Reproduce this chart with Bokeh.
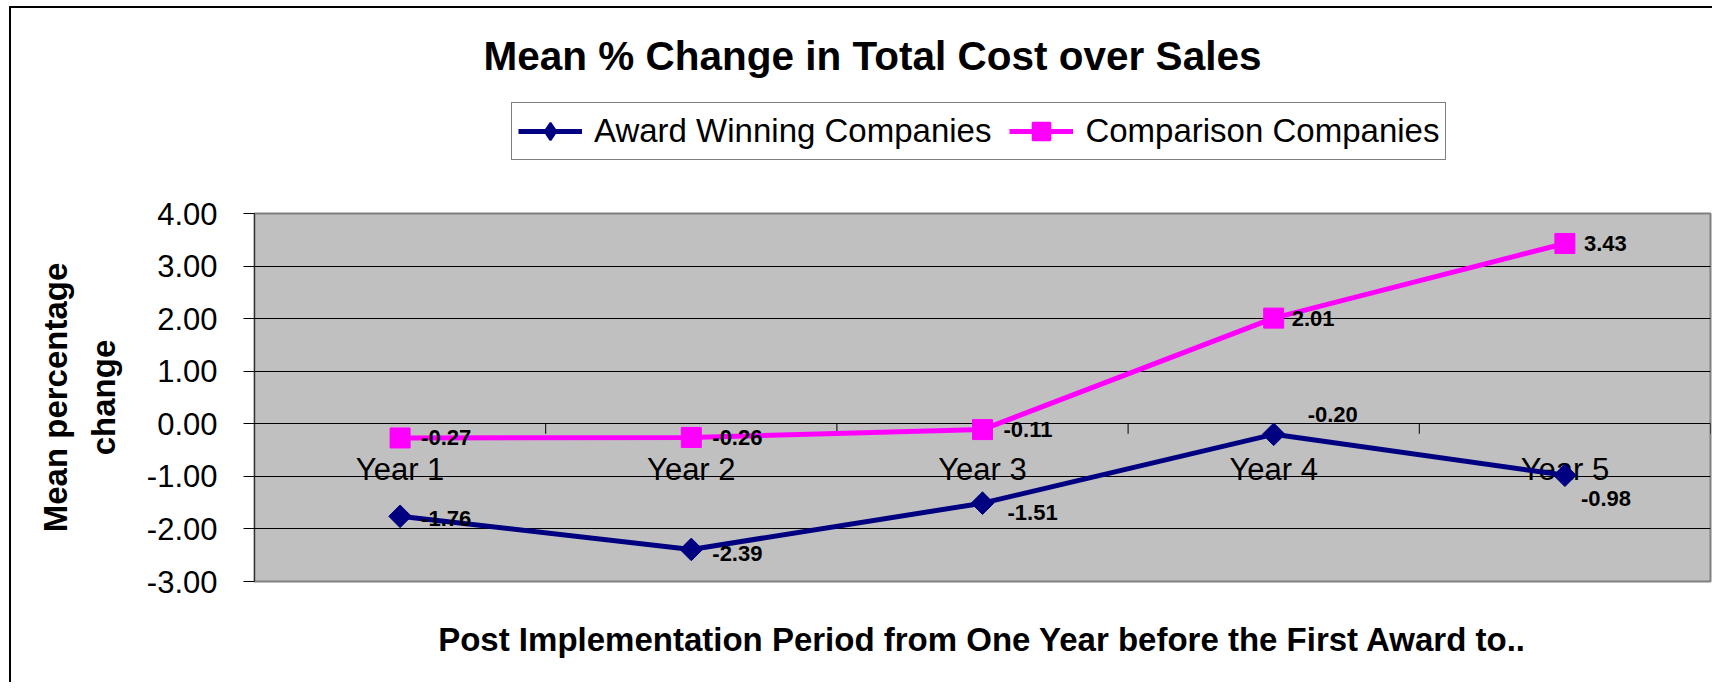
import math
from bokeh.plotting import figure
from bokeh.layouts import column
from bokeh.models import (Range1d, FixedTicker, NumeralTickFormatter, Legend,
                          LegendItem, Label, LinearAxis, ColumnDataSource)
from bokeh.core.properties import value
from bokeh.embed import file_html
from bokeh.resources import INLINE

# ---------------- data ----------------
categories = ["Year 1", "Year 2", "Year 3", "Year 4", "Year 5"]
award = [-1.76, -2.39, -1.51, -0.20, -0.98]
comparison = [-0.27, -0.26, -0.11, 2.01, 3.43]
y_ticks = [-3, -2, -1, 0, 1, 2, 3, 4]
series_names = ["Award Winning Companies", "Comparison Companies"]
title_text = "Mean % Change in Total Cost over Sales"
y_title = ["Mean percentage", "change"]
x_title = "Post Implementation Period from One Year before the First Award to.."

# label placement (styling, pixels)
award_dx = [21, 21, 25, 34, 16]
award_dy = [2, 4, 9, -20, 23]
comp_dx = [21, 21, 21, 18, 19]
comp_dy = [0, 0, 0, 0, 0]

FONT = "Liberation Sans"
NAVY = "#000080"
MAGENTA = "#FF00FF"
W = 1712
HEAD_H = 193
MAIN_H = 489
LEFT = 254
RIGHT = 2

n = len(categories)
xs = [i + 0.5 for i in range(n)]
bounds = list(range(n + 1))

src_a = ColumnDataSource(dict(x=xs, y=award, lab=[f"{v:.2f}" for v in award],
                              dx=award_dx, dy=award_dy))
src_c = ColumnDataSource(dict(x=xs, y=comparison, lab=[f"{v:.2f}" for v in comparison],
                              dx=comp_dx, dy=comp_dy))

# ---------------- header: title + legend ----------------
head = figure(width=W, height=HEAD_H, output_backend="svg", toolbar_location=None,
              x_range=Range1d(LEFT, W - RIGHT), y_range=Range1d(HEAD_H, 0), title=None,
              x_axis_location=None, y_axis_location=None,
              min_border_left=LEFT, min_border_right=RIGHT, min_border_top=0,
              min_border_bottom=0)
head.styles = {"background": "linear-gradient(#000,#000) 9px 6px / 2px 100% no-repeat, "
                             "linear-gradient(#000,#000) 9px 6px / calc(100% - 9px) 2px no-repeat, #ffffff"}
head.xgrid.visible = False
head.ygrid.visible = False
head.outline_line_color = None
head.background_fill_alpha = 0
head.border_fill_alpha = 0
# legend proxies: same series, drawn on an off-screen range of the header
head.extra_x_ranges = {"proxy": Range1d(-20, -10)}
hla = head.line("x", "y", source=src_a, x_range_name="proxy", line_color=NAVY, line_width=5)
hsa = head.scatter("x", "y", source=src_a, x_range_name="proxy", marker="diamond",
                   size=16, fill_color=NAVY, line_color=NAVY, line_width=2)
hlc = head.line("x", "y", source=src_c, x_range_name="proxy", line_color=MAGENTA, line_width=5)
hsc = head.scatter("x", "y", source=src_c, x_range_name="proxy", marker="square", size=20,
                   fill_color=MAGENTA, line_color=MAGENTA, line_width=2)

legend = Legend(items=[LegendItem(label=series_names[0], renderers=[hla, hsa]),
                       LegendItem(label=series_names[1], renderers=[hlc, hsc])],
                orientation="horizontal", location=(511 - LEFT, HEAD_H - 160),
                glyph_width=64, glyph_height=44, label_standoff=12, spacing=18,
                padding=6, margin=0, label_text_font=FONT,
                label_text_font_size="33px", label_text_color="black",
                border_line_color="black", border_line_width=1.5,
                background_fill_color="white", background_fill_alpha=1.0)
head.add_layout(legend)
head.add_layout(Label(x=872, y=55, text=title_text, text_font=FONT,
                      text_font_size="40.5px", text_font_style="bold",
                      text_align="center", text_baseline="alphabetic",
                      text_color="black"))

# ---------------- main chart ----------------
p = figure(width=W, height=MAIN_H, output_backend="svg", toolbar_location=None,
           x_range=Range1d(0, n), y_range=Range1d(min(y_ticks), max(y_ticks)),
           x_axis_location=None, title=None, min_border_left=LEFT, min_border_right=RIGHT,
           min_border_top=20, min_border_bottom=101)
p.styles = {"background": "linear-gradient(#000,#000) 9px 0 / 2px 100% no-repeat, #ffffff"}
p.background_fill_color = "#C0C0C0"
p.border_fill_alpha = 0
p.outline_line_color = "#808080"
p.outline_line_width = 2
p.xgrid.visible = False
p.ygrid.ticker = FixedTicker(ticks=y_ticks)
p.ygrid.grid_line_color = "black"
p.ygrid.grid_line_width = 1

ax = p.yaxis[0]
ax.ticker = FixedTicker(ticks=y_ticks)
ax.formatter = NumeralTickFormatter(format="0.00")
ax.major_label_text_font = FONT
ax.major_label_text_font_size = "31px"
ax.major_label_text_color = "black"
ax.major_label_standoff = 26
ax.major_tick_out = 11
ax.major_tick_in = 0
ax.minor_tick_out = 0
ax.minor_tick_in = 0
ax.axis_line_color = "#303030"
ax.axis_line_width = 1
ax.major_tick_line_color = "black"


def title_axis(text, standoff):
    return LinearAxis(ticker=FixedTicker(ticks=[]), axis_line_color=None,
                      major_tick_out=0, major_tick_in=0, minor_tick_out=0,
                      minor_tick_in=0, major_label_standoff=0, axis_label=text,
                      axis_label_standoff=standoff, axis_label_text_font=FONT,
                      axis_label_text_font_size="33px",
                      axis_label_text_font_style="bold",
                      axis_label_text_color="black")


p.add_layout(title_axis(y_title[1], 22), "left")
p.add_layout(title_axis(y_title[0], 8), "left")
p.add_layout(title_axis(x_title, 39), "below")

# category axis at zero
p.ray(x=bounds, y=[0] * len(bounds), length=10, length_units="screen",
      angle=-math.pi / 2, line_color="black", line_width=1)
p.text(x=xs, y=[0] * n, text=categories, y_offset=46, text_align="center",
       text_baseline="alphabetic", text_font=value(FONT), text_font_size="31px",
       text_color="black")

p.line("x", "y", source=src_a, line_color=NAVY, line_width=5, line_join="round")
p.scatter("x", "y", source=src_a, marker="square", angle=math.pi / 4, size=16,
          fill_color=NAVY, line_color=NAVY)
p.line("x", "y", source=src_c, line_color=MAGENTA, line_width=5, line_join="round")
p.scatter("x", "y", source=src_c, marker="square", size=20,
          fill_color=MAGENTA, line_color=MAGENTA)

for src in (src_a, src_c):
    p.text("x", "y", text="lab", source=src, x_offset="dx", y_offset="dy",
           text_align="left", text_baseline="middle", text_font=value(FONT),
           text_font_size="22px", text_font_style="bold", text_color="black")

layout = column(head, p, spacing=0)
open("out.html", "w").write(file_html(layout, INLINE))
